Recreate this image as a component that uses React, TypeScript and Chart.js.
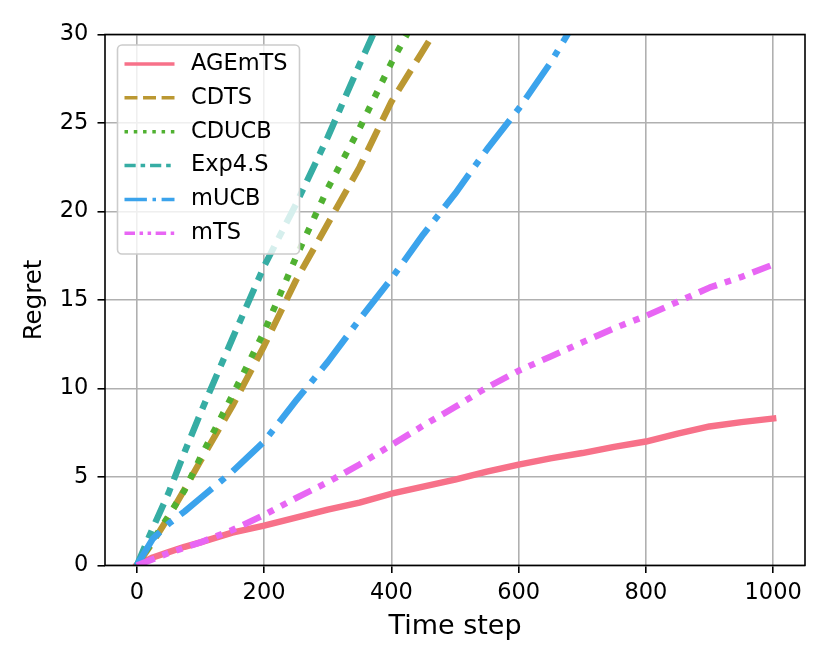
import { useEffect, useRef } from 'react';
import { Chart, registerables } from 'chart.js';

Chart.register(...registerables);

// data
const timeSteps = [0, 25, 50, 75, 100, 150, 200, 250, 300, 350, 400, 450, 500, 550, 600, 650, 700, 750, 800, 850, 900, 950, 1000];
const agemtsRegret = [0, 0.45, 0.75, 1.05, 1.3, 1.85, 2.25, 2.7, 3.15, 3.55, 4.05, 4.45, 4.85, 5.3, 5.7, 6.05, 6.35, 6.7, 7.0, 7.45, 7.85, 8.1, 8.3];
const cdtsRegret = [0, 1.3, 2.75, 4.3, 5.9, 9.0, 12.4, 16.1, 19.3, 22.5, 26.2, 29.1, 32.0, null, null, null, null, null, null, null, null, null, null];
const cducbRegret = [0, 1.4, 2.8, 4.25, 6.1, 9.6, 13.2, 17.4, 21.3, 24.7, 28.4, 31.7, null, null, null, null, null, null, null, null, null, null, null];
const exp4sRegret = [0, 2.1, 4.1, 6.4, 8.6, 12.8, 16.9, 20.4, 24.2, 28.3, 32.3, null, null, null, null, null, null, null, null, null, null, null, null];
const mucbRegret = [0, 1.5, 2.35, 3.05, 3.8, 5.3, 7.0, 9.3, 11.5, 13.9, 16.2, 18.7, 21.0, 23.5, 25.8, 28.4, 31.4, null, null, null, null, null, null];
const mtsRegret = [0, 0.35, 0.7, 1.0, 1.3, 2.0, 2.85, 3.8, 4.7, 5.7, 6.8, 7.9, 8.95, 10.05, 11.0, 11.8, 12.6, 13.4, 14.1, 14.9, 15.7, 16.3, 17.0];

const seriesNames = ['AGEmTS', 'CDTS', 'CDUCB', 'Exp4.S', 'mUCB', 'mTS'];
const seriesValues = [agemtsRegret, cdtsRegret, cducbRegret, exp4sRegret, mucbRegret, mtsRegret];
const xTickValues = [0, 200, 400, 600, 800, 1000];

// styling (matplotlib / husl look)
const seriesColors = ['#f77189', '#bb9832', '#50b131', '#36ada4', '#3ba3ec', '#e866f4'];
const dashUnits = [[], [3.7, 1.6], [1, 1.65], [3.2, 1.4, 1.3, 1.4], [6.4, 1.6, 1, 1.6], [3, 1.3, 1, 1.3, 1, 1.3]];
const LINE_W = 6.4;
const LEGEND_W = 3.5;
const FONT = '"DejaVu Sans", sans-serif';

const framePlugin = {
  id: 'frameAndLegend',
  afterDatasetsDraw(chart: any) {
    const { ctx, chartArea } = chart;
    const { left, right, top, bottom } = chartArea;
    ctx.save();

    // legend box, upper left
    ctx.beginPath();
    ctx.roundRect(117.5, 45, 182, 209, 4.5);
    ctx.fillStyle = 'rgba(255,255,255,0.8)';
    ctx.fill();
    ctx.strokeStyle = '#cccccc';
    ctx.lineWidth = 1.6;
    ctx.stroke();

    chart.data.datasets.forEach((ds: any, i: number) => {
      const y = 64 + i * 33.85;
      ctx.beginPath();
      ctx.setLineDash(dashUnits[i].map((d) => d * LEGEND_W));
      ctx.strokeStyle = ds.borderColor;
      ctx.lineWidth = LEGEND_W;
      ctx.lineCap = 'butt';
      ctx.moveTo(124.5, y);
      ctx.lineTo(174.5, y);
      ctx.stroke();
      ctx.setLineDash([]);
      ctx.fillStyle = '#000';
      ctx.font = `22.5px ${FONT}`;
      ctx.textBaseline = 'middle';
      ctx.textAlign = 'left';
      ctx.fillText(ds.label, 191, y);
    });

    // axes frame
    ctx.strokeStyle = '#000';
    ctx.lineWidth = 1.6;
    ctx.strokeRect(left, top, right - left, bottom - top);
    ctx.restore();
  },
};

export default function App() {
  const canvasRef = useRef<HTMLCanvasElement>(null);

  useEffect(() => {
    document.body.style.margin = '0';
    if (!canvasRef.current) return;

    const datasets = seriesNames.map((name, i) => ({
      label: name,
      data: timeSteps.map((t, j) => ({ x: t, y: seriesValues[i][j] })),
      borderColor: seriesColors[i],
      backgroundColor: seriesColors[i],
      borderWidth: LINE_W,
      borderDash: dashUnits[i].map((d) => d * LINE_W),
      borderCapStyle: i === 0 ? 'square' : 'butt',
      borderJoinStyle: 'round',
      pointRadius: 0,
      fill: false,
      tension: 0,
      clip: 0,
      order: seriesNames.length - i,
    }));

    const grid = {
      color: '#b0b0b0',
      lineWidth: 1.6,
      drawTicks: true,
      tickLength: 7.5,
      tickColor: '#000',
      tickWidth: 1.6,
    };

    const chart = new Chart(canvasRef.current, {
      type: 'line',
      data: { datasets } as any,
      options: {
        responsive: false,
        animation: false,
        layout: { padding: { top: 34.5, right: 26, bottom: 0, left: 0 } },
        plugins: { legend: { display: false }, tooltip: { enabled: false } },
        scales: {
          x: {
            type: 'linear',
            min: -50,
            max: 1050,
            grid,
            border: { display: false },
            ticks: {
              color: '#000',
              font: { family: FONT, size: 22.5 },
              padding: 6.5,
              maxRotation: 0,
              callback: (v: any) => String(v),
            },
            title: {
              display: true,
              text: 'Time step',
              color: '#000',
              font: { family: FONT, size: 27 },
              padding: { top: 0, bottom: 22 },
            },
            afterBuildTicks: (scale: any) => {
              scale.ticks = xTickValues.map((v) => ({ value: v }));
            },
            afterFit: (scale: any) => {
              scale.height = 99.6;
              scale.paddingLeft = 0;
              scale.paddingRight = 0;
            },
          },
          y: {
            min: 0,
            max: 30,
            grid,
            border: { display: false },
            ticks: {
              stepSize: 5,
              color: '#000',
              font: { family: FONT, size: 22.5 },
              padding: 9.2,
              callback: (v: any) => String(v),
            },
            title: {
              display: true,
              text: 'Regret',
              color: '#000',
              font: { family: FONT, size: 24.5 },
              padding: { top: 19.7, bottom: 0 },
            },
            afterFit: (scale: any) => {
              scale.width = 105;
              scale.paddingTop = 0;
              scale.paddingBottom = 0;
            },
          },
        },
      },
      plugins: [framePlugin],
    });

    return () => chart.destroy();
  }, []);

  return (
    <div style={{ width: 831, height: 665, background: '#fff' }}>
      <canvas ref={canvasRef} width={831} height={665} style={{ display: 'block' }} />
    </div>
  );
}
